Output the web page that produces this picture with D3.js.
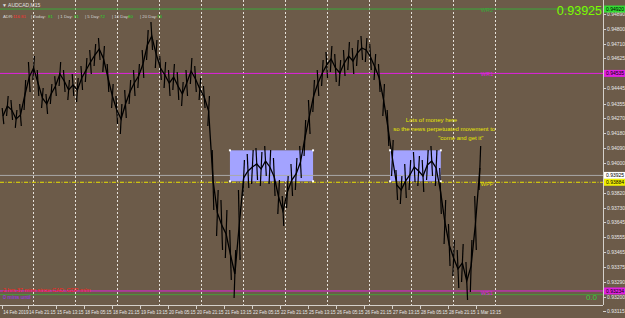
<!DOCTYPE html>
<html>
<head>
<meta charset="utf-8">
<script src="https://cdn.jsdelivr.net/npm/d3@7"></script>
<style>
  html, body { margin: 0; padding: 0; background: #6c5b49; overflow: hidden; }
  svg { display: block; font-family: "Liberation Sans", Arial, sans-serif; }
</style>
</head>
<body>
<script>
const width = 625;
const height = 318;
const plotRight = 603;
const plotBottom = 305;

// sampled M15 bars, one every 10 bars starting 14 Feb 2019
const barStep = 10;
const highs = [
  0.94328, 0.94400, 0.94376, 0.94316, 0.94352, 0.94496, 0.94603, 0.94639, 0.94555, 0.94448,
  0.94412, 0.94472, 0.94519, 0.94603, 0.94555, 0.94496, 0.94531, 0.94508, 0.94579, 0.94627,
  0.94675, 0.94711, 0.94747, 0.94699, 0.94591, 0.94472, 0.94400, 0.94352, 0.94436, 0.94496,
  0.94555, 0.94591, 0.94675, 0.94795, 0.94842, 0.94735, 0.94639, 0.94603, 0.94555, 0.94591,
  0.94543, 0.94484, 0.94555, 0.94627, 0.94579, 0.94508, 0.94460, 0.94400, 0.94077, 0.93838,
  0.93778, 0.93718, 0.93599, 0.93479, 0.93838, 0.94017, 0.94053, 0.94077, 0.94089, 0.94065,
  0.94101, 0.94077, 0.94029, 0.93898, 0.93802, 0.93921, 0.93993, 0.94029, 0.94101, 0.94256,
  0.94376, 0.94496, 0.94555, 0.94615, 0.94663, 0.94699, 0.94651, 0.94615, 0.94675, 0.94723,
  0.94687, 0.94735, 0.94759, 0.94747, 0.94711, 0.94651, 0.94591, 0.94472, 0.94316, 0.94137,
  0.93957, 0.93921, 0.93993, 0.94017, 0.94065, 0.94041, 0.94017, 0.94077, 0.94101, 0.94077,
  0.93969, 0.93778, 0.93634, 0.93539, 0.93479, 0.93515, 0.93407, 0.93539, 0.93802, 0.94101
];
const lows = [
  0.94232, 0.94280, 0.94256, 0.94209, 0.94221, 0.94316, 0.94424, 0.94496, 0.94400, 0.94328,
  0.94292, 0.94352, 0.94400, 0.94460, 0.94424, 0.94376, 0.94400, 0.94364, 0.94436, 0.94484,
  0.94531, 0.94579, 0.94615, 0.94543, 0.94424, 0.94328, 0.94232, 0.94173, 0.94268, 0.94352,
  0.94400, 0.94448, 0.94508, 0.94615, 0.94675, 0.94567, 0.94496, 0.94448, 0.94400, 0.94436,
  0.94376, 0.94340, 0.94400, 0.94472, 0.94424, 0.94376, 0.94328, 0.94221, 0.93718, 0.93563,
  0.93479, 0.93431, 0.93300, 0.93192, 0.93419, 0.93802, 0.93850, 0.93874, 0.93898, 0.93862,
  0.93921, 0.93874, 0.93802, 0.93694, 0.93622, 0.93730, 0.93802, 0.93838, 0.93910, 0.94041,
  0.94173, 0.94304, 0.94400, 0.94460, 0.94508, 0.94543, 0.94484, 0.94460, 0.94519, 0.94555,
  0.94531, 0.94579, 0.94615, 0.94603, 0.94555, 0.94496, 0.94424, 0.94280, 0.94101, 0.93921,
  0.93778, 0.93754, 0.93790, 0.93838, 0.93886, 0.93862, 0.93826, 0.93898, 0.93921, 0.93862,
  0.93694, 0.93515, 0.93383, 0.93324, 0.93252, 0.93288, 0.93180, 0.93228, 0.93479, 0.93838
];

const timeLabels = ['14 Feb 2019', '14 Feb 21:15', '15 Feb 13:15', '18 Feb 05:15', '18 Feb 21:15',
  '19 Feb 13:15', '20 Feb 05:15', '20 Feb 21:15', '21 Feb 13:15', '22 Feb 05:15', '22 Feb 21:15',
  '25 Feb 13:15', '26 Feb 05:15', '26 Feb 21:15', '27 Feb 13:15', '28 Feb 05:15', '28 Feb 21:15',
  '1 Mar 13:15'];
const timeLabelBars = [0, 59, 123, 187, 251, 315, 379, 443, 507, 571, 635, 699, 763, 827, 891, 955, 1019, 1083];
const separatorBars = [70, 166, 262, 358, 454, 550, 646, 742, 838, 934, 1030, 1126];

const priceTicks = [0.94890, 0.94800, 0.94710, 0.94625, 0.94445, 0.94355, 0.94270, 0.94180,
  0.94090, 0.94000, 0.93820, 0.93730, 0.93645, 0.93555, 0.93465, 0.93375, 0.93290, 0.93200, 0.93115];

const bidPrice = 0.93925;
const levelNames = ['WR2', 'WR1', 'WPP', 'WS1'];
const levelPrices = [0.94920, 0.94535, 0.93884, 0.93234];
const fibZeroPrice = 0.93212;

const rectBars = [[521, 711], [887, 1003]];
const rectPrices = [0.94075, 0.93890];

const noteLines = ['Lots of money here', 'so the news perpetuated movement to', '"come and get it"'];
const noteBars = [923, 894, 997];
const notePrices = [0.94245, 0.94192, 0.94138];

const adrParts = [
  ['ADR:', 'label'], ['116 81', 'red'], ['| Today:', 'label'], ['81', 'green'],
  ['| 1 Day:', 'label'], ['81', 'green'], ['| 5 Day:', 'label'], ['72', 'green'],
  ['| 10 Day:', 'label'], ['80', 'green'], ['| 20 Day:', 'label'], ['74', 'green']
];
const adrX = [3, 13, 31, 48, 58, 74, 85, 100, 112, 128, 140, 157];

const x = d3.scaleLinear().domain([0, 1100]).range([2, 2 + 1100 * 0.4375]);
const y = d3.scaleLinear().domain([0.94974, 0.93180]).range([0, 300]);

const svg = d3.select('body').append('svg')
  .attr('width', width)
  .attr('height', height);

// period separators
svg.append('g')
  .selectAll('line')
  .data(separatorBars)
  .join('line')
    .attr('x1', d => Math.round(x(d)) + 0.5)
    .attr('x2', d => Math.round(x(d)) + 0.5)
    .attr('y1', 0)
    .attr('y2', plotBottom)
    .attr('stroke', '#e6e2dc')
    .attr('stroke-dasharray', '2,2');

// rectangles
const rects = svg.append('g');
rectBars.forEach(([b0, b1]) => {
  const x0 = x(b0), x1 = x(b1), y0 = y(rectPrices[0]), y1 = y(rectPrices[1]);
  rects.append('rect')
    .attr('x', x0).attr('y', y0)
    .attr('width', x1 - x0).attr('height', y1 - y0)
    .attr('fill', '#a3a3ff');
});

// level lines
svg.append('line')
  .attr('x1', 0).attr('x2', plotRight)
  .attr('y1', y(levelPrices[0])).attr('y2', y(levelPrices[0]))
  .attr('stroke', '#3aa83a');
[1, 3].forEach(i => {
  svg.append('line')
    .attr('x1', 0).attr('x2', plotRight)
    .attr('y1', y(levelPrices[i])).attr('y2', y(levelPrices[i]))
    .attr('stroke', '#e020e0');
});
svg.append('line')
  .attr('x1', 0).attr('x2', plotRight)
  .attr('y1', y(fibZeroPrice)).attr('y2', y(fibZeroPrice))
  .attr('stroke', '#4a9a3a');
svg.append('line')
  .attr('x1', 0).attr('x2', plotRight)
  .attr('y1', y(bidPrice)).attr('y2', y(bidPrice))
  .attr('stroke', '#a9a9a9');
svg.append('line')
  .attr('x1', 0).attr('x2', plotRight)
  .attr('y1', y(levelPrices[2])).attr('y2', y(levelPrices[2]))
  .attr('stroke', '#e8e000')
  .attr('stroke-dasharray', '4,1.5,1,1.5');

// price: close line through bar mids plus high-low wicks
const mids = highs.map((h, i) => [x(i * barStep) + 1, y((h + lows[i]) / 2)]);
svg.append('path')
  .attr('d', d3.line()(mids))
  .attr('fill', 'none')
  .attr('stroke', '#000')
  .attr('stroke-width', 1.3);
svg.append('g')
  .selectAll('line')
  .data(highs)
  .join('line')
    .attr('x1', (d, i) => x(i * barStep) + 1 + (i % 2 ? 0.8 : -0.8))
    .attr('x2', (d, i) => x(i * barStep) + 1 - (i % 2 ? 0.8 : -0.8))
    .attr('y1', d => y(d))
    .attr('y2', (d, i) => y(lows[i]))
    .attr('stroke', '#000')
    .attr('stroke-width', 1.2);

// rectangle handles
rectBars.forEach(([b0, b1]) => {
  [[b0, 0], [b1, 0], [b0, 1], [b1, 1]].forEach(([b, k]) => {
    svg.append('rect')
      .attr('x', x(b) - 1).attr('y', y(rectPrices[k]) - 1)
      .attr('width', 2).attr('height', 2)
      .attr('fill', '#fff');
  });
});

// level labels
const levelLabelX = x(1083) + 5;
[[0, '#3aa83a', 3], [1, '#e020e0', 3], [2, '#e8e000', 4], [3, '#e020e0', 4]].forEach(([i, c, dy]) => {
  svg.append('text')
    .attr('x', levelLabelX)
    .attr('y', y(levelPrices[i]) + dy)
    .attr('font-size', 5.5)
    .attr('fill', c)
    .text(levelNames[i]);
});
svg.append('text')
  .attr('x', 597).attr('y', y(fibZeroPrice) + 5)
  .attr('text-anchor', 'end')
  .attr('font-size', 8)
  .attr('fill', '#3cc83c')
  .text('0.0');

// annotation
svg.append('g')
  .selectAll('text')
  .data(noteLines)
  .join('text')
    .attr('x', (d, i) => x(noteBars[i]))
    .attr('y', (d, i) => y(notePrices[i]))
    .attr('font-size', 6)
    .attr('fill', '#e6e600')
    .text(d => d);

// axes frame
svg.append('line')
  .attr('x1', plotRight + 0.5).attr('x2', plotRight + 0.5)
  .attr('y1', 0).attr('y2', plotBottom)
  .attr('stroke', '#d4d0ca');
svg.append('line')
  .attr('x1', 0).attr('x2', plotRight)
  .attr('y1', plotBottom + 0.5).attr('y2', plotBottom + 0.5)
  .attr('stroke', '#d4d0ca');

// price axis
const pAxis = svg.append('g');
pAxis.selectAll('line')
  .data(priceTicks)
  .join('line')
    .attr('x1', plotRight).attr('x2', plotRight + 3)
    .attr('y1', d => Math.round(y(d)) + 0.5)
    .attr('y2', d => Math.round(y(d)) + 0.5)
    .attr('stroke', '#d4d0ca');
pAxis.selectAll('text')
  .data(priceTicks)
  .join('text')
    .attr('x', plotRight + 4)
    .attr('y', d => y(d) + 2)
    .attr('font-size', 5)
    .attr('fill', '#e8e8e8')
    .text(d => d.toFixed(5));

// price boxes on the axis
[[levelPrices[0], '#33dd33'], [levelPrices[1], '#e020e0'], [bidPrice, '#ffffff'],
  [levelPrices[2], '#f0f000'], [levelPrices[3], '#e020e0']].forEach(([p, c]) => {
  svg.append('rect')
    .attr('x', plotRight + 1).attr('y', y(p) - 3.5)
    .attr('width', 21).attr('height', 7)
    .attr('fill', c);
  svg.append('text')
    .attr('x', plotRight + 3).attr('y', y(p) + 2)
    .attr('font-size', 5)
    .attr('fill', '#000')
    .text(p.toFixed(5));
});

// time axis
const tAxis = svg.append('g');
tAxis.selectAll('line')
  .data(timeLabelBars)
  .join('line')
    .attr('x1', d => Math.round(x(d)) + 0.5)
    .attr('x2', d => Math.round(x(d)) + 0.5)
    .attr('y1', plotBottom).attr('y2', plotBottom + 4)
    .attr('stroke', '#d4d0ca');
tAxis.selectAll('text')
  .data(timeLabels)
  .join('text')
    .attr('x', (d, i) => x(timeLabelBars[i]) + 1.2)
    .attr('y', 314)
    .attr('font-size', 4.5)
    .attr('fill', '#e8e8e8')
    .text(d => d);

// header
svg.append('text')
  .attr('x', 2).attr('y', 7)
  .attr('font-size', 5)
  .attr('fill', '#e0e0e0')
  .text('\u25BC ' + 'AUDCAD,M15');
const adrColors = { label: '#d8d8d8', red: '#ff3030', green: '#22dd22' };
svg.append('g')
  .selectAll('text')
  .data(adrParts)
  .join('text')
    .attr('x', (d, i) => adrX[i])
    .attr('y', 18)
    .attr('font-size', 4.3)
    .attr('fill', d => adrColors[d[1]])
    .text(d => d[0]);

svg.append('text')
  .attr('x', 602).attr('y', 15)
  .attr('text-anchor', 'end')
  .attr('font-size', 12.5)
  .attr('fill', '#7cfc00')
  .text(bidPrice.toFixed(5));

// bottom-left news info
svg.append('text')
  .attr('x', 3).attr('y', 292)
  .attr('font-size', 5.5)
  .attr('fill', '#ff2020')
  .text('2 hrs 37 mins since CAD: GDP m/m');
svg.append('text')
  .attr('x', 3).attr('y', 299)
  .attr('font-size', 5.5)
  .attr('fill', '#a030ff')
  .text('0 mins until :');
</script>
</body>
</html>
